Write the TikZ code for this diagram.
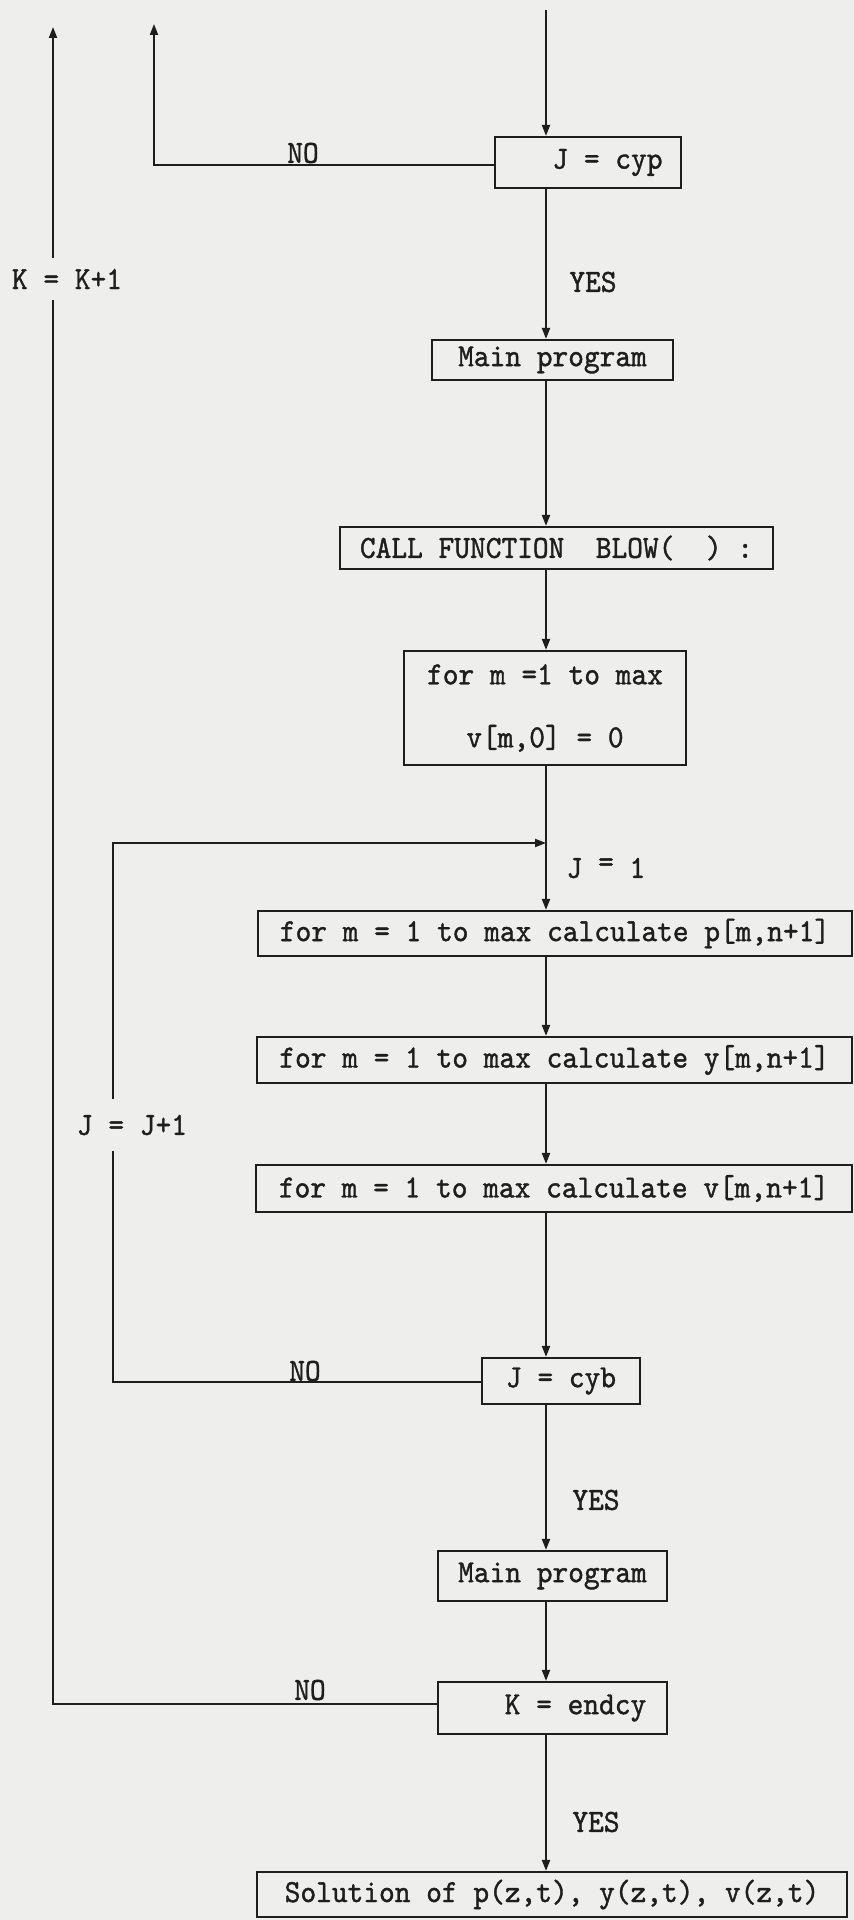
\documentclass[tikz,border=0pt]{standalone}
\usepackage{fontspec}
\newfontfamily\mono[FakeBold=1.2,FakeStretch=0.93]{lmmono10-regular.otf}
\usetikzlibrary{arrows.meta}
\definecolor{paper}{RGB}{238,238,236}
\definecolor{ink}{RGB}{30,30,30}
\begin{document}
\begin{tikzpicture}[x=0.5pt,y=-0.5pt,
  wire/.style={draw=ink,line width=1pt},
  arr/.style={-{Triangle[length=5.5pt,width=4pt]}},
  box/.style={draw=ink,line width=1.1pt,inner sep=0pt,text=ink,
    font=\mono\fontsize{16.1}{19}\selectfont},
  lbl/.style={inner sep=0pt,text=ink,font=\mono\fontsize{16.1}{19}\selectfont}]
\fill[paper] (0,0) rectangle (854,1920);
\useasboundingbox (0,0) rectangle (854,1920);
% boxes
\node[box,minimum width=93pt,minimum height=25.5pt] (cyp) at (588,162.5) {\hspace*{19.5pt}J = cyp};
\node[box,minimum width=120.5pt,minimum height=20pt] (main1) at (552.5,360) {Main program};
\node[box,minimum width=216.5pt,minimum height=21pt] (call) at (556.5,548) {CALL FUNCTION~~BLOW(~~)~:};
\node[box,minimum width=141pt,minimum height=57pt,align=center] (form) at (545,708) {for m =1 to max\\[12.5pt]v[m,0] = 0};
\node[box,minimum width=297pt,minimum height=22.5pt] (pbox) at (555,933.5) {for m = 1 to max calculate p[m,n+1]};
\node[box,minimum width=297.5pt,minimum height=23pt] (ybox) at (554.5,1060) {for m = 1 to max calculate y[m,n+1]};
\node[box,minimum width=298pt,minimum height=23.5pt] (vbox) at (554,1188.5) {for m = 1 to max calculate v[m,n+1]};
\node[box,minimum width=79pt,minimum height=23pt] (cyb) at (561,1381) {J = cyb};
\node[box,minimum width=114.5pt,minimum height=25pt] (main2) at (552.5,1576) {Main program};
\node[box,minimum width=114.5pt,minimum height=26pt] (endcy) at (552.5,1708) {\hspace*{23pt}K = endcy};
\node[box,minimum width=295pt,minimum height=22.5pt] (sol) at (552,1894.5) {Solution of p(z,t), y(z,t), v(z,t)};
% labels
\node[lbl] (no1) at (303,153) {NO};
\node[lbl] (yes1) at (593,282) {YES};
\node[lbl,minimum height=21pt] (kk) at (67,279) {K = K+1};
\node[lbl] (j1) at (606,868) {J \raisebox{3pt}{=} 1};
\node[lbl,minimum height=26pt] (jj) at (132,1125) {J = J+1};
\node[lbl] (no2) at (305,1371) {NO};
\node[lbl] (yes2) at (596,1500) {YES};
\node[lbl] (no3) at (310,1690) {NO};
\node[lbl] (yes3) at (596,1822) {YES};
% coordinates
\coordinate (topin) at (546,10);
\coordinate (up1) at (154,24);
\coordinate (up2) at (53,27);
\coordinate (lx1) at (113,0);
\coordinate (lx2) at (53,0);
\coordinate (loopin) at (546,843);
% main flow
\draw[wire,arr] (topin) -- (topin |- cyp.north);
\draw[wire,arr] (cyp.south -| topin) -- (main1.north -| topin);
\draw[wire,arr] (main1.south -| topin) -- (call.north -| topin);
\draw[wire,arr] (call.south -| topin) -- (form.north -| topin);
\draw[wire,arr] (form.south -| topin) -- (pbox.north -| topin);
\draw[wire,arr] (pbox.south -| topin) -- (ybox.north -| topin);
\draw[wire,arr] (ybox.south -| topin) -- (vbox.north -| topin);
\draw[wire,arr] (vbox.south -| topin) -- (cyb.north -| topin);
\draw[wire,arr] (cyb.south -| topin) -- (main2.north -| topin);
\draw[wire,arr] (main2.south -| topin) -- (endcy.north -| topin);
\draw[wire,arr] (endcy.south -| topin) -- (sol.north -| topin);
% NO branch from J = cyp
\draw[wire,arr] ([yshift=-1.5pt]cyp.west) -| (up1);
% J loop
\draw[wire] ([yshift=-0.5pt]cyb.west) -| (jj.south -| lx1);
\draw[wire,arr] (jj.north -| lx1) |- (loopin);
% K loop
\draw[wire] ([yshift=2pt]endcy.west) -| (kk.south -| lx2);
\draw[wire,arr] (kk.north -| lx2) -- (up2);
\end{tikzpicture}
\end{document}
